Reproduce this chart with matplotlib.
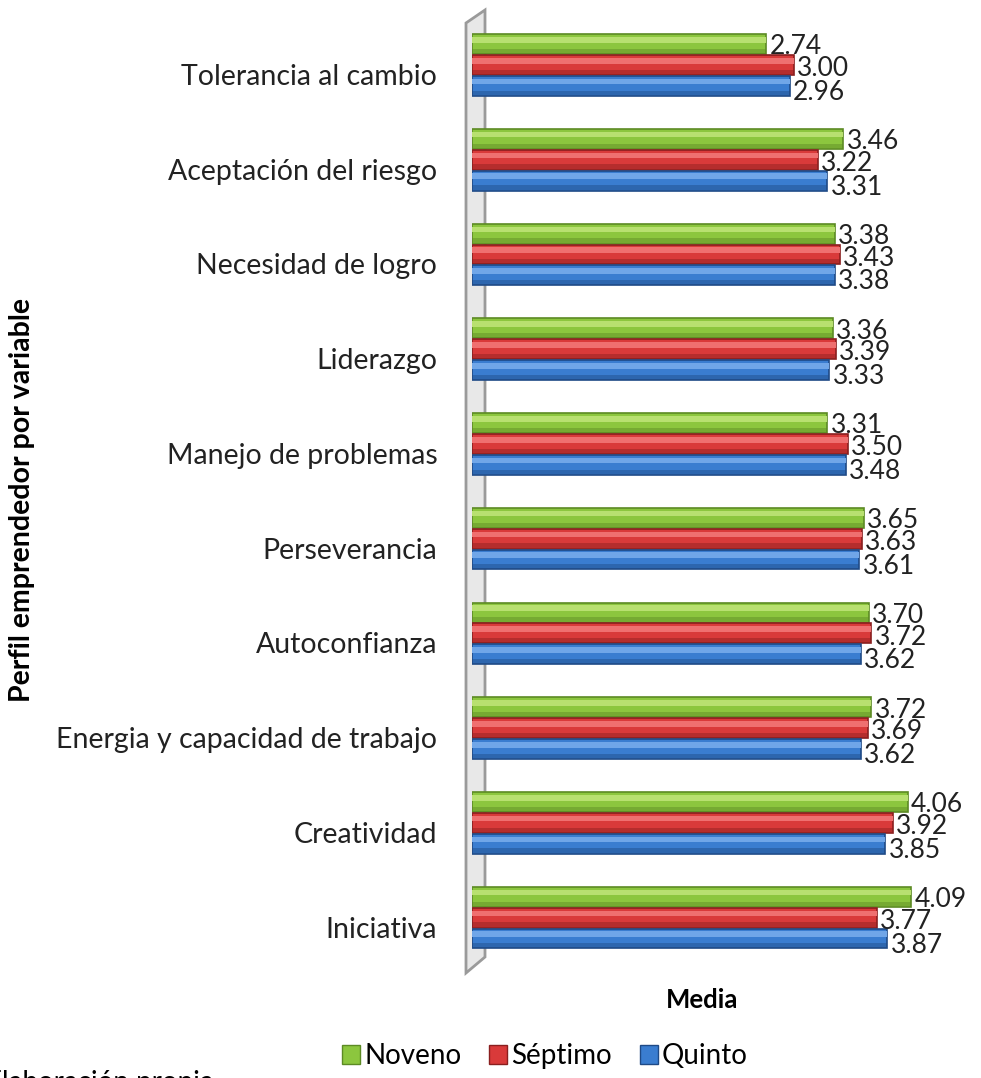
import numpy as np
import matplotlib.pyplot as plt
from matplotlib.patches import Polygon, Patch

plt.rcParams['font.family'] = ['Lato', 'DejaVu Sans']

categorias = ['Tolerancia al cambio', 'Aceptación del riesgo', 'Necesidad de logro',
              'Liderazgo', 'Manejo de problemas', 'Perseverancia', 'Autoconfianza',
              'Energia y capacidad de trabajo', 'Creatividad', 'Iniciativa']
noveno = [2.74, 3.46, 3.38, 3.36, 3.31, 3.65, 3.70, 3.72, 4.06, 4.09]
septimo = [3.00, 3.22, 3.43, 3.39, 3.50, 3.63, 3.72, 3.69, 3.92, 3.77]
quinto = [2.96, 3.31, 3.38, 3.33, 3.48, 3.61, 3.62, 3.62, 3.85, 3.87]

W, H = 981, 1078
fig = plt.figure(figsize=(W / 100, H / 100), dpi=100)

# 3d "wall" behind the bars (figure pixels)
def fx(px):
    return px / W
def fy(py):
    return 1 - py / H

wall = Polygon([(fx(466), fy(23)), (fx(485), fy(10)), (fx(485), fy(957)), (fx(466), fy(973))],
               closed=True, transform=fig.transFigure, facecolor='#e8e8e8',
               edgecolor='#9a9a9a', lw=2, zorder=-5)
fig.patches.append(wall)

ax = fig.add_axes([fx(472), fy(965), (955 - 472) / W, (965 - 17.6) / H])
ax.patch.set_alpha(0)
ax.set_zorder(2)

y = np.arange(len(categorias))[::-1]
off = 0.22
h = 0.21
series = [
    ('Noveno', noveno, off, -0.03, '#8cc63e', '#b8e070', '#5c8a24'),
    ('Séptimo', septimo, 0, -0.04, '#d93a3a', '#ef7070', '#8a1f1f'),
    ('Quinto', quinto, -off, -0.07, '#3a7dd0', '#70a6e8', '#1f4a86'),
]
for name, vals, dy, ldy, c, light, dark in series:
    ax.barh(y + dy, vals, height=h, color=c, edgecolor=dark, lw=1.2, zorder=2)
    ax.barh(y + dy + 0.045, vals, height=0.06, color=light, lw=0, zorder=3)
    ax.barh(y + dy - 0.075, vals, height=0.05, color=dark, alpha=0.45, lw=0, zorder=3)
    for yi, v in zip(y, vals):
        ax.text(v + 0.03, yi + dy + ldy, f'{v:.2f}', ha='left', va='center',
                fontsize=19, color='#222222', zorder=4)

ax.set_xlim(0, 4.5)
ax.set_ylim(-0.5, len(categorias) - 0.5)
ax.set_yticks(y - 0.1)
ax.set_yticklabels(categorias, fontsize=20.5, color='#222222')
ax.tick_params(axis='y', length=0, pad=25)
ax.set_xticks([])
for s in ax.spines.values():
    s.set_visible(False)

fig.text(fx(22), fy(500), 'Perfil emprendedor por variable', rotation=90, ha='center',
         va='center', fontsize=20.5, fontweight='bold')
fig.text(fx(702), fy(1000), 'Media', ha='center', va='center', fontsize=18.5, fontweight='bold')

handles = [Patch(facecolor=c, edgecolor=dark, label=name) for name, _, _, _, c, _, dark in series]
fig.legend(handles=handles, loc='center', bbox_to_anchor=(fx(545), fy(1056)), ncol=3,
           frameon=False, fontsize=20, handlelength=0.65, handleheight=0.65,
           handletextpad=0.15, columnspacing=1.0)

fig.text(fx(-14), fy(1070), 'Elaboración propia', ha='left', va='top', fontsize=20)

fig.savefig('out.png', dpi=100)
